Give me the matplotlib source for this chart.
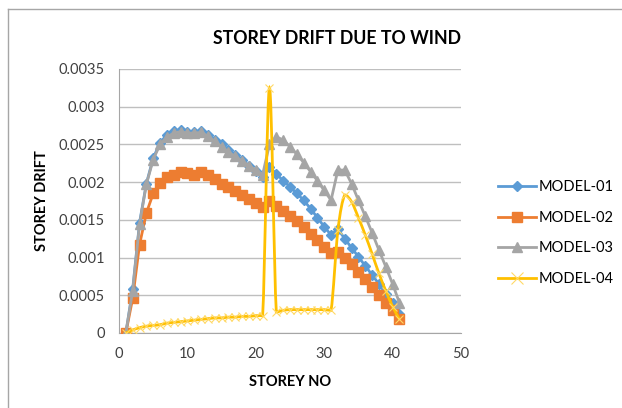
import matplotlib.pyplot as plt
import numpy as np
from matplotlib.lines import Line2D
from matplotlib.path import Path
from matplotlib.patches import PathPatch

plt.rcParams['font.family'] = ['Lato', 'DejaVu Sans']

storey = list(range(1, 42))

model_01 = [0, 0.00058, 0.00146, 0.00198, 0.00232, 0.00252, 0.00263, 0.00268, 0.00269, 0.00267,
            0.00266, 0.00268, 0.00263, 0.00256, 0.0025, 0.00243, 0.00236, 0.00229, 0.00222, 0.00215,
            0.00207, 0.0022, 0.00211, 0.00202, 0.00194, 0.00185, 0.00176, 0.00165, 0.00153, 0.00141,
            0.0013, 0.00138, 0.00125, 0.00113, 0.00101, 0.00089, 0.00077, 0.00065, 0.00052, 0.0004,
            0.00025]
model_02 = [0, 0.00046, 0.00117, 0.00159, 0.00185, 0.00199, 0.00207, 0.0021, 0.00213, 0.00212,
            0.0021, 0.00214, 0.0021, 0.00204, 0.00198, 0.00193, 0.00188, 0.00183, 0.00177, 0.00172,
            0.00167, 0.00175, 0.00169, 0.00162, 0.00155, 0.00148, 0.0014, 0.00131, 0.00123, 0.00114,
            0.00106, 0.00108, 0.001, 0.00091, 0.00081, 0.00071, 0.00061, 0.0005, 0.0004, 0.0003,
            0.00019]
model_03 = [0, 0.00056, 0.00144, 0.00197, 0.0023, 0.0025, 0.0026, 0.00265, 0.00267, 0.00265,
            0.00265, 0.00266, 0.00261, 0.00254, 0.00247, 0.0024, 0.00234, 0.00228, 0.00222, 0.00216,
            0.0021, 0.0025, 0.0026, 0.00256, 0.00247, 0.00237, 0.00226, 0.00214, 0.00202, 0.00189,
            0.00176, 0.00216, 0.00216, 0.00198, 0.00176, 0.00155, 0.00133, 0.0011, 0.00088, 0.00065,
            0.0004]
model_04 = [0, 0.00004, 0.00007, 0.00009, 0.0001, 0.00011, 0.00013, 0.00014, 0.00015, 0.00016,
            0.00017, 0.00018, 0.00019, 0.0002, 0.0002, 0.00021, 0.00021, 0.00022, 0.00022, 0.00023,
            0.00023, 0.00325, 0.00028, 0.0003, 0.00031, 0.00031, 0.00031, 0.00031, 0.00031, 0.00031,
            0.0003, 0.00136, 0.00183, 0.00174, 0.00153, 0.0013, 0.00105, 0.00079, 0.00056, 0.00035,
            0.00018]

series = [
    ("MODEL-01", model_01, '#5B9BD5', 'D', 5),
    ("MODEL-02", model_02, '#ED7D31', 's', 7),
    ("MODEL-03", model_03, '#A5A5A5', '^', 7),
    ("MODEL-04", model_04, '#FFC000', 'x', 6),
]


# smoothed line like excel, control points kept inside each segment's y range
def smooth_path(x, y):
    pts = np.column_stack([x, y]).astype(float)
    verts = [pts[0]]
    codes = [Path.MOVETO]
    n = len(pts)
    for i in range(n - 1):
        p0 = pts[max(i - 1, 0)]
        p1 = pts[i]
        p2 = pts[i + 1]
        p3 = pts[min(i + 2, n - 1)]
        c1 = p1 + (p2 - p0) / 6
        c2 = p2 - (p3 - p1) / 6
        lo, hi = min(p1[1], p2[1]), max(p1[1], p2[1])
        c1[1] = np.clip(c1[1], lo, hi)
        c2[1] = np.clip(c2[1], lo, hi)
        verts += [c1, c2, p2]
        codes += [Path.CURVE4] * 3
    return Path(verts, codes)


fig = plt.figure(figsize=(6.22, 4.08), dpi=100)
ax = fig.add_axes([119/622, 1-333/408, (461-119)/622, (333-69)/408])

for name, vals, col, mk, ms in series:
    if mk == 'x':
        ax.add_patch(PathPatch(smooth_path(storey, vals), fc='none', ec=col, lw=2, zorder=3))
        ax.plot(storey, vals, ls='none', marker=mk, ms=ms, mew=0.8,
                mec='#FFD966', zorder=3)
    else:
        ax.plot(storey, vals, color=col, lw=2, marker=mk, ms=ms, mec=col,
                label=name, zorder=3)

ax.set_xlim(0, 50)
ax.set_ylim(0, 0.0035)
ax.set_xticks(np.arange(0, 51, 10))
ax.set_yticks(np.arange(0, 0.00351, 0.0005))
ax.set_yticklabels(['0', '0.0005', '0.001', '0.0015', '0.002', '0.0025', '0.003', '0.0035'])
ax.tick_params(length=0, labelsize=10.5, colors='#404040', pad=10)
ax.grid(axis='y', color='#BFBFBF', lw=1)
ax.set_axisbelow(True)
for s in ['top', 'right']:
    ax.spines[s].set_visible(False)
ax.spines['left'].set_color('#A6A6A6')
ax.spines['bottom'].set_color('#A6A6A6')

ax.set_xlabel('STOREY NO', fontsize=10.5, fontweight='bold', labelpad=10)
ax.set_ylabel('STOREY DRIFT', fontsize=10.5, fontweight='bold', labelpad=7)
fig.text(337/622, 1-38/408, 'STOREY DRIFT DUE TO WIND', fontsize=12.8, fontweight='bold',
         ha='center', va='center')

handles = []
for name, vals, col, mk, ms in series:
    if mk == 'x':
        handles.append(Line2D([], [], color=col, lw=2, marker=mk, ms=ms + 3, mew=0.8, mec='#FFD966'))
    else:
        handles.append(Line2D([], [], color=col, lw=2, marker=mk, ms=ms, mec=col))
fig.legend(handles, [s[0] for s in series], loc='center left',
           bbox_to_anchor=(485/622, 1-233/408), frameon=False, fontsize=10.5,
           handlelength=2.6, labelspacing=1.15, handletextpad=0.2)

fig.add_artist(Line2D([8/622, 8/622], [0, 1-9/408], color='#A6A6A6', lw=1))
fig.add_artist(Line2D([8/622, 1], [1-9/408, 1-9/408], color='#A6A6A6', lw=1))

fig.savefig('out.png', dpi=100)
